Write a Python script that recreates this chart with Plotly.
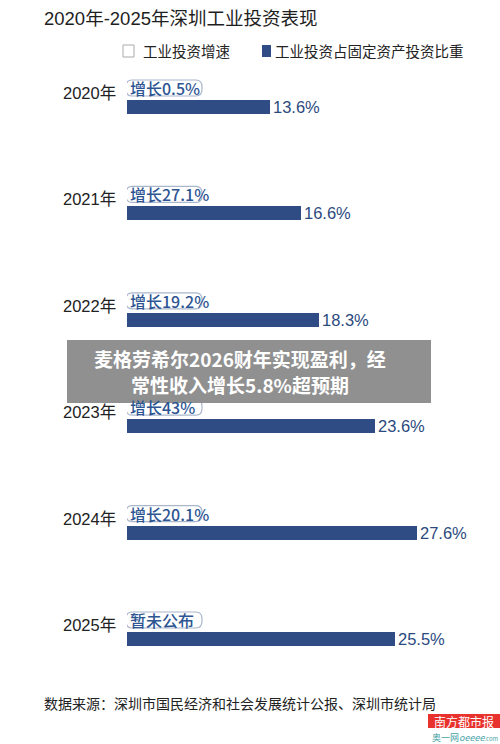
import plotly.graph_objects as go

years = ["2020年", "2021年", "2022年", "2023年", "2024年", "2025年"]
share = [13.6, 16.6, 18.3, 23.6, 27.6, 25.5]
share_labels = ["13.6%", "16.6%", "18.3%", "23.6%", "27.6%", "25.5%"]
growth_labels = ["增长0.5%", "增长27.1%", "增长19.2%", "增长43%", "增长20.1%", "暂未公布"]

W, H = 500, 744
PX_PER_UNIT_X = 10.5
X0_PX = 127
XMAX = (W - X0_PX) / PX_PER_UNIT_X
ROW_PX = 106.4
FIRST_PX = 107
y_top = -FIRST_PX / ROW_PX
y_bot = (H - FIRST_PX) / ROW_PX

BAR = "#2f4c85"
LBL = "#2b4a7e"
CJK = "Noto Sans CJK SC"
LAT = "Liberation Sans, Noto Sans CJK SC"

idx = list(range(len(years)))

fig = go.Figure()
fig.add_trace(go.Bar(
    x=share, y=idx, orientation="h", width=14 / ROW_PX,
    marker=dict(color=BAR, line=dict(width=0)),
    text=share_labels, textposition="outside", cliponaxis=False,
    constraintext="none",
    textfont=dict(family=LAT, size=16.5, color=LBL),
    hoverinfo="skip", showlegend=False,
))

shapes = []
annotations = []
rx = 6 / PX_PER_UNIT_X
ry = 7 / ROW_PX
for i, (yr, g) in enumerate(zip(years, growth_labels)):
    annotations.append(dict(x=0, y=i, xref="x", yref="y", text=yr, showarrow=False,
                            xanchor="right", yanchor="middle", xshift=-9, yshift=14,
                            font=dict(family=LAT, size=16.5, color="#222222")))
    xa = -1 / PX_PER_UNIT_X
    xb = 75 / PX_PER_UNIT_X
    ya = i - 27 / ROW_PX
    yb = i - 11 / ROW_PX
    path = (f"M {xa+rx},{ya} L {xb-rx},{ya} Q {xb},{ya} {xb},{ya+ry} "
            f"L {xb},{yb-ry} Q {xb},{yb} {xb-rx},{yb} L {xa+rx},{yb} "
            f"Q {xa},{yb} {xa},{yb-ry} L {xa},{ya+ry} Q {xa},{ya} {xa+rx},{ya} Z")
    shapes.append(dict(type="path", path=path, xref="x", yref="y",
                       fillcolor="white", line=dict(color="#aab6cc", width=1.2), layer="above"))
    annotations.append(dict(x=0, y=i, xref="x", yref="y", text=g, showarrow=False,
                            xanchor="left", yanchor="middle", xshift=1, yshift=19,
                            font=dict(family=CJK, size=16, color="#2d5593", weight=500)))

annotations.append(dict(x=42 / W, y=1 - 19 / H, xref="paper", yref="paper",
                        text="2020年-2025年深圳工业投资表现", showarrow=False,
                        xanchor="left", yanchor="middle",
                        font=dict(family=LAT, size=18.5, color="#1e1e1e")))
shapes.append(dict(type="rect", xref="paper", yref="paper",
                   x0=123 / W, x1=134 / W, y0=1 - 57 / H, y1=1 - 45 / H,
                   fillcolor="white", line=dict(color="#aaaaaa", width=1)))
annotations.append(dict(x=141 / W, y=1 - 50.5 / H, xref="paper", yref="paper",
                        text="工业投资增速", showarrow=False, xanchor="left", yanchor="middle",
                        font=dict(family=CJK, size=14.5, color="#222222")))
shapes.append(dict(type="rect", xref="paper", yref="paper",
                   x0=262 / W, x1=271 / W, y0=1 - 57 / H, y1=1 - 45 / H,
                   fillcolor=BAR, line=dict(width=0)))
annotations.append(dict(x=273 / W, y=1 - 50.5 / H, xref="paper", yref="paper",
                        text="工业投资占固定资产投资比重", showarrow=False, xanchor="left", yanchor="middle",
                        font=dict(family=CJK, size=14.5, color="#222222")))
annotations.append(dict(x=42 / W, y=1 - 703 / H, xref="paper", yref="paper",
                        text="数据来源：深圳市国民经济和社会发展统计公报、深圳市统计局", showarrow=False,
                        xanchor="left", yanchor="middle",
                        font=dict(family=CJK, size=14, color="#222222")))
shapes.append(dict(type="rect", xref="paper", yref="paper",
                   x0=428 / W, x1=1, y0=1 - 728 / H, y1=1 - 714 / H,
                   fillcolor="#e8322d", line=dict(width=0), layer="above"))
annotations.append(dict(x=464 / W, y=1 - 721 / H, xref="paper", yref="paper",
                        text="南方都市报", showarrow=False, xanchor="center", yanchor="middle",
                        font=dict(family=CJK, size=12, color="white")))
annotations.append(dict(x=430 / W, y=1 - 737 / H, xref="paper", yref="paper",
                        text="奥一网<i>oeeee</i><span style='font-size:6px'>.com</span>", showarrow=False,
                        xanchor="left", yanchor="middle",
                        font=dict(family=CJK, size=9, color="#4aa3a8")))
shapes.append(dict(type="rect", xref="paper", yref="paper",
                   x0=67 / W, x1=431 / W, y0=1 - 403 / H, y1=1 - 340 / H,
                   fillcolor="rgba(140,140,140,0.97)", line=dict(width=0), layer="above"))
annotations.append(dict(x=240 / W, y=1 - 358 / H, xref="paper", yref="paper",
                        text="<b>麦格劳希尔2026财年实现盈利，经</b>", showarrow=False,
                        xanchor="center", yanchor="middle",
                        font=dict(family=CJK, size=19, color="white")))
annotations.append(dict(x=240 / W, y=1 - 384 / H, xref="paper", yref="paper",
                        text="<b>常性收入增长5.8%超预期</b>", showarrow=False,
                        xanchor="center", yanchor="middle",
                        font=dict(family=CJK, size=19, color="white")))

fig.update_layout(
    width=W, height=H, margin=dict(l=0, r=0, t=0, b=0),
    paper_bgcolor="white", plot_bgcolor="white",
    xaxis=dict(domain=[X0_PX / W, 1], range=[0, XMAX], visible=False, fixedrange=True),
    yaxis=dict(domain=[0, 1], range=[y_bot, y_top], visible=False, fixedrange=True),
    shapes=shapes, annotations=annotations, showlegend=False, bargap=0,
)

fig.write_html("out.html", config={"displayModeBar": False},
               post_script="document.body.style.margin='0';document.body.style.overflow='hidden';")
